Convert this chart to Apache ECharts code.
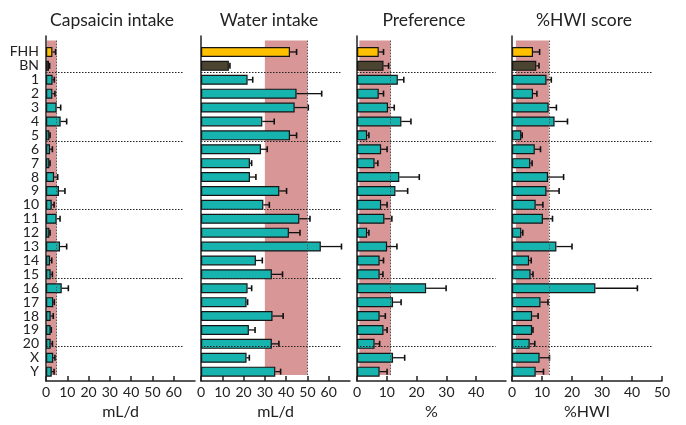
<!DOCTYPE html>
<html><head><meta charset="utf-8">
<script src="https://cdn.jsdelivr.net/npm/echarts@6/dist/echarts.min.js"></script>
<style>html,body{margin:0;padding:0;background:#fff}#c{width:686px;height:425px}</style>
</head><body><div id="c"></div>
<script>
// ---- data ----
const categories = ['FHH','BN','1','2','3','4','5','6','7','8','9','10','11','12','13','14','15','16','17','18','19','20','X','Y'];
const groupBreaks = [2, 7, 12, 17, 22]; // separator placed before these category indices

const capsaicinMean = [3.0,1.4,3.1,3.0,5.0,6.9,1.6,1.9,1.6,3.8,6.1,2.7,5.0,1.6,6.6,1.9,2.2,7.4,3.4,2.2,2.2,2.2,3.4,2.7];
const capsaicinSem  = [1.5,0.3,0.8,1.2,1.9,2.8,0.3,1.1,0.3,1.7,2.8,1.1,1.6,0.3,3.1,0.8,0.8,3.1,0.5,1.2,0.3,0.8,0.8,1.1];
const waterMean = [41.8,13.1,21.9,44.9,44.0,28.8,41.8,28.2,23.0,23.0,36.8,29.3,46.2,41.3,56.3,25.8,33.3,21.9,21.4,33.6,22.5,33.3,21.4,34.9];
const waterSem  = [3.1,0.5,2.4,11.8,6.4,5.6,3.1,2.9,0.8,2.8,3.4,2.8,5.0,5.2,9.7,3.0,5.0,1.9,0.5,5.0,2.9,3.3,1.3,2.5];
const prefMean = [7.3,8.9,13.7,7.3,10.4,14.9,3.4,8.1,5.9,14.2,12.9,8.1,9.2,3.4,10.1,7.6,7.6,23.2,12.1,7.6,8.9,5.9,12.1,7.6];
const prefSem  = [1.6,1.7,2.0,1.6,2.1,3.2,0.6,2.0,1.1,6.7,4.1,2.0,2.5,0.6,3.3,1.3,1.1,6.7,2.7,1.9,1.2,1.7,3.9,2.5];
const hwiMean = [7.0,8.1,11.5,7.0,12.2,14.2,3.1,7.6,6.1,12.0,11.5,7.9,10.3,3.1,14.8,5.7,6.2,27.8,9.5,6.7,6.7,5.9,9.2,7.9];
const hwiSem  = [2.2,0.9,1.6,1.3,2.6,4.3,0.3,1.9,0.6,5.2,4.2,2.4,3.2,0.5,5.2,0.7,0.8,14.0,2.5,2.0,0.3,1.7,3.3,2.6];

// normal (reference) ranges shown as shaded bands
const capsaicinRange = [0.5, 5];
const waterRange = [30, 50];
const prefRange = [0.8, 11.3];
const hwiRange = [1.3, 12.3];

const titles = ['Capsaicin intake', 'Water intake', 'Preference', '%HWI score'];
const units = ['mL/d', 'mL/d', '%', '%HWI'];
const axisMax = [70, 70, 50, 50];

// ---- layout / style ----
const FONT = 'Lato, "Open Sans", sans-serif';
const panels = [
  {mean: capsaicinMean, sem: capsaicinSem, range: capsaicinRange, left: 46, width: 149, titleX: 112, showMax: false, lineEnd: 64.5},
  {mean: waterMean, sem: waterSem, range: waterRange, left: 201, width: 149, titleX: 269, showMax: false, lineEnd: 65.5},
  {mean: prefMean, sem: prefSem, range: prefRange, left: 357, width: 149, titleX: 424, showMax: false, lineEnd: 46.5},
  {mean: hwiMean, sem: hwiSem, range: hwiRange, left: 512, width: 150, titleX: 584, showMax: true, lineEnd: 46.5}
];
const OUTER_TOP = 36, OUTER_H = 350;
const INNER_TOP = 45, INNER_H = 333.6;
const BAND = INNER_H / categories.length;
const yMinBand = -(INNER_TOP - OUTER_TOP) / BAND;
const yMaxBand = categories.length + (OUTER_TOP + OUTER_H - INNER_TOP - INNER_H) / BAND;

const TEAL = '#17b3af', YELLOW = '#ffc000', DARK = '#4a4431';
const PINK = '#d89697';
function barColor(i){ return i === 0 ? YELLOW : (i === 1 ? DARK : TEAL); }

const grids = [], xAxes = [], yAxes = [], series = [], titleOpts = [];

panels.forEach((p, k) => {
  const go = 2*k, gi = 2*k + 1;
  grids.push({left: p.left, width: p.width, top: OUTER_TOP, height: OUTER_H});
  grids.push({left: p.left, width: p.width, top: INNER_TOP, height: INNER_H});

  xAxes.push({
    gridIndex: go, type: 'value', min: 0, max: axisMax[k], interval: 10,
    axisLine: {show: true, onZero: false, lineStyle: {color: '#222', width: 1.5}},
    axisTick: {show: true, inside: true, length: 5, lineStyle: {color: '#222', width: 1.5}},
    axisLabel: {margin: 4, fontSize: 14, color: '#222', fontFamily: FONT, showMaxLabel: p.showMax},
    splitLine: {show: false},
    name: units[k], nameLocation: 'middle', nameGap: 23,
    nameTextStyle: {fontSize: 16, color: '#222', fontFamily: FONT}
  });
  xAxes.push({gridIndex: gi, type: 'value', min: 0, max: axisMax[k], show: false});

  yAxes.push({
    gridIndex: go, type: 'value', inverse: true, min: yMinBand, max: yMaxBand,
    axisLine: {show: true, onZero: false, lineStyle: {color: '#222', width: 1.5}},
    axisTick: {show: false}, axisLabel: {show: false}, splitLine: {show: false}
  });
  yAxes.push({
    gridIndex: gi, type: 'category', inverse: true, data: categories,
    axisLine: {show: false}, axisTick: {show: false}, splitLine: {show: false},
    axisLabel: {show: k === 0, margin: 7, fontSize: 14, color: '#222', fontFamily: FONT, interval: 0}
  });

  const sepLines = groupBreaks.map(b => [
    {coord: [0, b]}, {coord: [p.lineEnd, b]}
  ]);
  const edgeLine = [{coord: [p.range[1], -0.31], lineStyle: {color: '#555', type: [1.5, 1.5], width: 1}},
                    {coord: [p.range[1], 24.1]}];

  series.push({
    type: 'scatter', xAxisIndex: go, yAxisIndex: go, data: [], silent: true, z: 1,
    markArea: {silent: true, itemStyle: {color: PINK}, data: [[{coord: [p.range[0], -0.31]}, {coord: [p.range[1], 24.1]}]]},
    markLine: {silent: true, symbol: ['none','none'], label: {show: false}, animation: false,
      lineStyle: {color: '#222', type: [1.5, 1.5], width: 1.2},
      data: sepLines.concat([edgeLine])}
  });

  series.push({
    type: 'bar', xAxisIndex: gi, yAxisIndex: gi, barWidth: 10, z: 3,
    data: p.mean.map((v, i) => ({value: v, itemStyle: {color: barColor(i)}})),
    itemStyle: {borderColor: '#151515', borderWidth: 1.2}
  });

  series.push({
    type: 'custom', xAxisIndex: gi, yAxisIndex: gi, z: 4,
    encode: {x: [1, 2], y: 0},
    data: p.mean.map((v, i) => [i, v, p.sem[i]]),
    renderItem: function(params, api){
      const c = api.value(0), m = api.value(1), e = api.value(2);
      const a = api.coord([m, c]), b = api.coord([m + e, c]);
      return {type: 'group', children: [
        {type: 'line', shape: {x1: a[0], y1: a[1], x2: b[0], y2: b[1]}, style: {stroke: '#111', lineWidth: 1.3}},
        {type: 'line', shape: {x1: b[0], y1: b[1] - 3, x2: b[0], y2: b[1] + 3}, style: {stroke: '#111', lineWidth: 1.6}}
      ]};
    }
  });

  titleOpts.push({text: titles[k], left: p.titleX, top: 11, padding: 0, textAlign: 'center',
    textStyle: {fontSize: 17.5, fontWeight: 'normal', color: '#222', fontFamily: FONT}});
});

const chart = echarts.init(document.getElementById('c'), null, {renderer: 'canvas'});
chart.setOption({
  animation: false,
  backgroundColor: '#fff',
  title: titleOpts,
  grid: grids, xAxis: xAxes, yAxis: yAxes, series: series
});
</script></body></html>
